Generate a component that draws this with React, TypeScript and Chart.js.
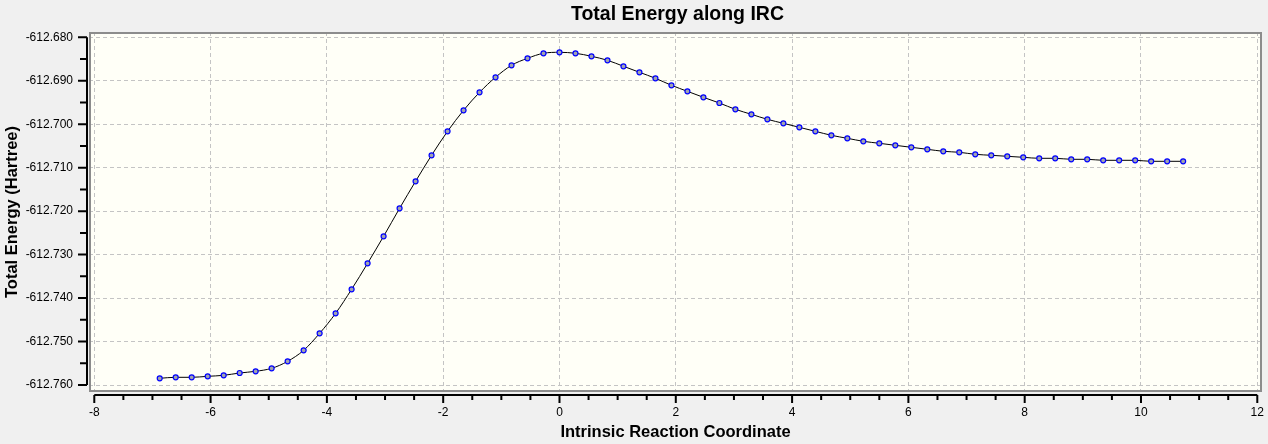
import { Chart, ChartOptions, Plugin, registerables } from 'chart.js';
import React, { useEffect, useRef } from 'react';

Chart.register(...registerables);

const chartTitle = 'Total Energy along IRC';
const xAxisTitle = 'Intrinsic Reaction Coordinate';
const yAxisTitle = 'Total Energy (Hartree)';

// reaction coordinate of each IRC point
const ircCoordinates = [
  -6.875, -6.6, -6.325, -6.05, -5.775, -5.5, -5.225, -4.95, -4.675, -4.4,
  -4.125, -3.85, -3.575, -3.3, -3.025, -2.75, -2.475, -2.2, -1.925, -1.65,
  -1.375, -1.1, -0.825, -0.55, -0.275, 0, 0.275, 0.55, 0.825, 1.1,
  1.375, 1.65, 1.925, 2.2, 2.475, 2.75, 3.025, 3.3, 3.575, 3.85,
  4.125, 4.4, 4.675, 4.95, 5.225, 5.5, 5.775, 6.05, 6.325, 6.6,
  6.875, 7.15, 7.425, 7.7, 7.975, 8.25, 8.525, 8.8, 9.075, 9.35,
  9.625, 9.9, 10.175, 10.45, 10.725,
];

// total energy (Hartree) at each point
const totalEnergies = [
  -612.75846, -612.75823, -612.75823, -612.758, -612.75777, -612.75724, -612.75685, -612.75616, -612.75455, -612.75202,
  -612.74811, -612.74351, -612.73798, -612.732, -612.72579, -612.71935, -612.71313, -612.70715, -612.70163, -612.6968,
  -612.69266, -612.6892, -612.68644, -612.68483, -612.68368, -612.68345, -612.68368, -612.68437, -612.68529, -612.68667,
  -612.68805, -612.68943, -612.69104, -612.69243, -612.69381, -612.69512, -612.69657, -612.69772, -612.69887, -612.69979,
  -612.70071, -612.70163, -612.70255, -612.70324, -612.70393, -612.70439, -612.70485, -612.70531, -612.70577, -612.70623,
  -612.70646, -612.70692, -612.70715, -612.70738, -612.70761, -612.70784, -612.70784, -612.70807, -612.70807, -612.7083,
  -612.7083, -612.7083, -612.70853, -612.70853, -612.70853,
];

const FONT = '"Liberation Sans", Arial, sans-serif';

// draws the plot background, frame, offset axes with major/minor ticks and the title
const frameAndAxes: Plugin<'line'> = {
  id: 'frameAndAxes',
  beforeDraw(chart) {
    const { ctx, chartArea: a, width, height } = chart;
    ctx.save();
    ctx.fillStyle = '#f0f0f0';
    ctx.fillRect(0, 0, width, height);
    ctx.fillStyle = '#fffff7';
    ctx.fillRect(a.left, a.top, a.right - a.left, a.bottom - a.top);
    ctx.restore();
  },
  afterDraw(chart) {
    const { ctx, chartArea: a } = chart;
    const xs = chart.scales.x;
    const ys = chart.scales.y;
    const xt = xs.ticks.map((t) => t.value);
    const yt = ys.ticks.map((t) => t.value);

    ctx.save();
    ctx.strokeStyle = '#8c8c8c';
    ctx.lineWidth = 2;
    ctx.strokeRect(a.left + 1, a.top + 1, a.right - a.left - 2, a.bottom - a.top - 2);

    const axisX = a.left - 2;
    const axisY = a.bottom + 3;
    ctx.strokeStyle = '#000';
    ctx.lineWidth = 2;
    ctx.beginPath();
    ctx.moveTo(axisX, ys.getPixelForValue(yt[0]));
    ctx.lineTo(axisX, ys.getPixelForValue(yt[yt.length - 1]));
    ctx.moveTo(xs.getPixelForValue(xt[0]), axisY);
    ctx.lineTo(xs.getPixelForValue(xt[xt.length - 1]), axisY);

    yt.forEach((v, i) => {
      const py = ys.getPixelForValue(v);
      ctx.moveTo(axisX, py);
      ctx.lineTo(axisX - 9, py);
      if (i < yt.length - 1) {
        const pm = ys.getPixelForValue((v + yt[i + 1]) / 2);
        ctx.moveTo(axisX, pm);
        ctx.lineTo(axisX - 7, pm);
      }
    });
    xt.forEach((v, i) => {
      const px = xs.getPixelForValue(v);
      ctx.moveTo(px, axisY);
      ctx.lineTo(px, axisY + 8);
      if (i < xt.length - 1) {
        for (let k = 1; k < 4; k++) {
          const pm = xs.getPixelForValue(v + ((xt[i + 1] - v) * k) / 4);
          ctx.moveTo(pm, axisY);
          ctx.lineTo(pm, axisY + 5);
        }
      }
    });
    ctx.stroke();

    ctx.fillStyle = '#000';
    ctx.font = `bold 19.5px ${FONT}`;
    ctx.textAlign = 'center';
    ctx.textBaseline = 'alphabetic';
    ctx.fillText(chartTitle, (a.left + a.right) / 2 + 2, 20);
    ctx.restore();
  },
};

const App: React.FC = () => {
  const canvasRef = useRef<HTMLCanvasElement | null>(null);

  useEffect(() => {
    const canvas = canvasRef.current;
    if (!canvas) return;

    const options: ChartOptions<'line'> = {
      animation: false,
      responsive: true,
      maintainAspectRatio: false,
      layout: { padding: { top: 32, right: 6, left: 0, bottom: 0 } },
      plugins: {
        legend: { display: false },
        tooltip: { enabled: false },
      },
      scales: {
        x: {
          type: 'linear',
          min: -8.091,
          max: 12.081,
          afterFit: (scale) => {
            scale.height = 52;
            scale.paddingLeft = 0;
            scale.paddingRight = 0;
          },
          ticks: {
            stepSize: 2,
            includeBounds: false,
            padding: 13,
            color: '#000',
            font: { family: FONT, size: 12 },
          },
          grid: { color: '#c4c4c4', lineWidth: 1, drawTicks: false },
          border: { display: false, dash: [4, 3] },
          title: {
            display: true,
            text: xAxisTitle,
            color: '#000',
            font: { family: FONT, size: 16.5, weight: 'bold' },
            padding: { top: 0, bottom: 2 },
          },
        },
        y: {
          type: 'linear',
          min: -612.76161,
          max: -612.67878,
          afterFit: (scale) => {
            scale.width = 89;
            scale.paddingTop = 0;
            scale.paddingBottom = 0;
          },
          ticks: {
            stepSize: 0.01,
            includeBounds: false,
            padding: 16,
            color: '#000',
            font: { family: FONT, size: 12 },
            callback: (value) => Number(value).toFixed(3),
          },
          grid: { color: '#c4c4c4', lineWidth: 1, drawTicks: false },
          border: { display: false, dash: [4, 3] },
          title: {
            display: true,
            text: yAxisTitle,
            color: '#000',
            font: { family: FONT, size: 16.5, weight: 'bold' },
            padding: { top: 3, bottom: 0 },
          },
        },
      },
    };

    const chart = new Chart(canvas, {
      type: 'line',
      data: {
        datasets: [
          {
            data: ircCoordinates.map((x, i) => ({ x, y: totalEnergies[i] })),
            borderColor: '#000',
            borderWidth: 1,
            cubicInterpolationMode: 'monotone',
            pointRadius: 2.5,
            pointBackgroundColor: '#a0a4ae',
            pointBorderColor: '#0000ff',
            pointBorderWidth: 1.2,
          },
        ],
      },
      options,
      plugins: [frameAndAxes],
    });

    return () => {
      chart.destroy();
    };
  }, []);

  return (
    <div style={{ position: 'fixed', left: 0, top: 0, width: 1268, height: 444, background: '#f0f0f0' }}>
      <canvas ref={canvasRef} />
    </div>
  );
};

export default App;
